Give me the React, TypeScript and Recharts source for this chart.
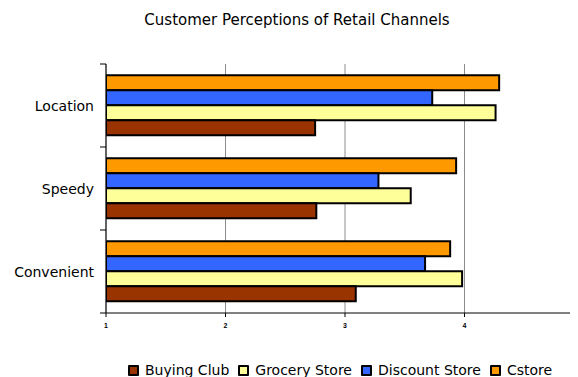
import React from 'react';
import { BarChart, Bar, XAxis, YAxis, CartesianGrid, Legend } from 'recharts';

const categories = ['Location', 'Speedy', 'Convenient'];
const buyingClub = [2.75, 2.76, 3.09];
const groceryStore = [4.26, 3.55, 3.98];
const discountStore = [3.73, 3.28, 3.67];
const cstore = [4.29, 3.93, 3.88];
const xTicks = [1, 2, 3, 4];
const xDomain = [1, 5];
const title = 'Customer Perceptions of Retail Channels';

const series = [
  { key: 'buyingClub', name: 'Buying Club', color: '#993300', values: buyingClub },
  { key: 'groceryStore', name: 'Grocery Store', color: '#FFFF99', values: groceryStore },
  { key: 'discountStore', name: 'Discount Store', color: '#3366FF', values: discountStore },
  { key: 'cstore', name: 'Cstore', color: '#FF9900', values: cstore },
];

const data = categories.map((name, i) => {
  const row: any = { name };
  series.forEach((s) => {
    row[s.key] = s.values[i];
  });
  return row;
});

const YTick = (props: any) => {
  const { x, y, payload, index } = props;
  const half = payload && payload.offset ? payload.offset : 0;
  const isLast = index === categories.length - 1;
  return (
    <g>
      <line x1={x - 6} x2={x} y1={y - half} y2={y - half} stroke="#000" strokeWidth={1} />
      {isLast && <line x1={x - 6} x2={x} y1={y + half} y2={y + half} stroke="#000" strokeWidth={1} />}
      <text x={x - 12} y={y} dy="0.36em" textAnchor="end" fontSize={14} fontFamily="DejaVu Sans" fill="#000">
        {payload.value}
      </text>
    </g>
  );
};

const LegendContent = () => (
  <div style={{ display: 'flex', height: 16, alignItems: 'center', fontFamily: 'DejaVu Sans', fontSize: 14, lineHeight: '16px', color: '#000', whiteSpace: 'nowrap' }}>
    {series.map((s) => (
      <div key={s.key} style={{ display: 'flex', alignItems: 'center', marginRight: 9 }}>
        <span style={{ display: 'inline-block', width: 7, height: 7, background: s.color, border: '2px solid #000', borderRadius: 1, marginRight: 6 }} />
        <span>{s.name}</span>
      </div>
    ))}
  </div>
);

export default function App() {
  return (
    <div style={{ position: 'relative', width: 600, height: 400 }}>
      <div style={{ position: 'absolute', top: 3, left: 0, width: 578, textAlign: 'center', fontFamily: 'DejaVu Sans', fontSize: 15, lineHeight: '18px', color: '#000' }}>
        {title}
      </div>
      <BarChart
        width={600}
        height={400}
        data={data}
        layout="vertical"
        margin={{ top: 56, right: 24, bottom: 59, left: 0 }}
        barCategoryGap="13.5%"
        barGap={0}
      >
        <CartesianGrid horizontal={false} vertical={true} stroke="#8c8c8c" strokeWidth={1} />
        <XAxis
          type="number"
          domain={xDomain}
          ticks={xTicks}
          interval={0}
          allowDataOverflow
          height={20}
          tickSize={4}
          tickMargin={6}
          axisLine={{ stroke: '#000' }}
          tickLine={{ stroke: '#000' }}
          tick={{ fontSize: 7, fontWeight: 'bold', fontFamily: 'Liberation Sans', fill: '#000' }}
        />
        <YAxis
          type="category"
          dataKey="name"
          width={98}
          interval={0}
          tickLine={false}
          tickSize={0}
          tickMargin={0}
          axisLine={{ stroke: '#000' }}
          tick={<YTick />}
        />
        {[...series].reverse().map((s) => (
          <Bar
            key={s.key}
            dataKey={s.key}
            name={s.name}
            fill={s.color}
            stroke="#000"
            strokeWidth={2}
            isAnimationActive={false}
          />
        ))}
        <Legend
          verticalAlign="bottom"
          content={<LegendContent />}
          wrapperStyle={{ position: 'absolute', top: 354, left: 120, width: 470, height: 16 }}
        />
      </BarChart>
    </div>
  );
}
